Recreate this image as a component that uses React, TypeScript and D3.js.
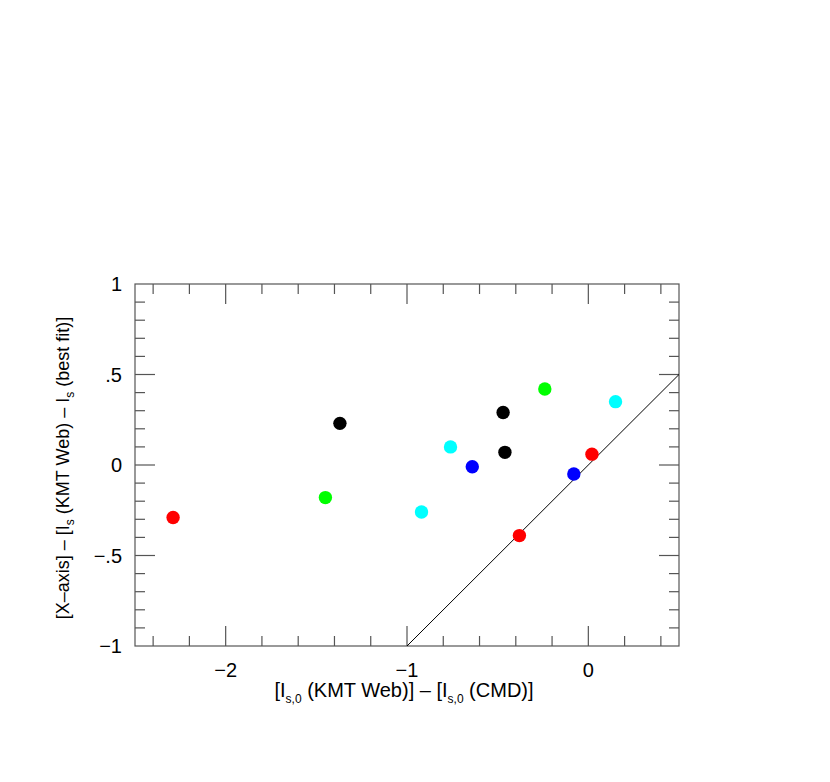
import React from 'react';
import * as d3 from 'd3';

const WIDTH = 830;
const HEIGHT = 782;
const MARGIN = { top: 284, right: 151, bottom: 136, left: 135 };
const GRAPH_WIDTH = WIDTH - MARGIN.left - MARGIN.right;
const GRAPH_HEIGHT = HEIGHT - MARGIN.top - MARGIN.bottom;

// point values
const xValues = [-2.29, -1.45, -1.37, -0.92, -0.76, -0.64, -0.47, -0.46, -0.24, 0.15, 0.02, -0.08, -0.38];
const yValues = [-0.29, -0.18, 0.23, -0.26, 0.10, -0.01, 0.29, 0.07, 0.42, 0.35, 0.06, -0.05, -0.39];
const pointColors = ['#ff0000', '#00ff00', '#000000', '#00ffff', '#00ffff', '#0000ff', '#000000', '#000000', '#00ff00', '#00ffff', '#ff0000', '#0000ff', '#ff0000'];

const xTickValues = [-2, -1, 0];
const xTickLabels = ['\u22122', '\u22121', '0'];
const yTickValues = [-1, -0.5, 0, 0.5, 1];
const yTickLabels = ['\u22121', '\u2212.5', '0', '.5', '1'];
const refLine = [-1, 0.5];

const FONT = '"Liberation Sans", Arial, Helvetica, sans-serif';
const AXIS_COLOR = '#555';

export default function App() {
    const xScale = d3.scaleLinear().domain([-2.5, 0.5]).range([0, GRAPH_WIDTH]);
    const yScale = d3.scaleLinear().domain([-1, 1]).range([GRAPH_HEIGHT, 0]);

    const xMinor = d3.range(-2.4, 0.5, 0.2).map(v => +v.toFixed(2));
    const yMinor = d3.range(-0.9, 1, 0.1).map(v => +v.toFixed(2));
    const isMajorX = (v: number) => Math.abs(v - Math.round(v)) < 1e-6;
    const isMajorY = (v: number) => Math.abs(v * 2 - Math.round(v * 2)) < 1e-6;

    const line = d3.line<number>().x(d => xScale(d)).y(d => yScale(d));

    return (
        <svg width={WIDTH} height={HEIGHT} style={{ position: 'absolute', left: 0, top: 0 }}>
            <g transform={`translate(${MARGIN.left}, ${MARGIN.top})`} fontFamily={FONT}>
                <rect x={0} y={0} width={GRAPH_WIDTH} height={GRAPH_HEIGHT} fill="none" stroke={AXIS_COLOR} strokeWidth={1.2} />
                {xMinor.map(v => {
                    const len = isMajorX(v) ? 20 : 10;
                    const x = xScale(v);
                    return (
                        <g key={'xt' + v}>
                            <line x1={x} x2={x} y1={GRAPH_HEIGHT} y2={GRAPH_HEIGHT - len} stroke={AXIS_COLOR} strokeWidth={1.2} />
                            <line x1={x} x2={x} y1={0} y2={len} stroke={AXIS_COLOR} strokeWidth={1.2} />
                        </g>
                    );
                })}
                {yMinor.map(v => {
                    const len = isMajorY(v) ? 20 : 10;
                    const y = yScale(v);
                    return (
                        <g key={'yt' + v}>
                            <line x1={0} x2={len} y1={y} y2={y} stroke={AXIS_COLOR} strokeWidth={1.2} />
                            <line x1={GRAPH_WIDTH} x2={GRAPH_WIDTH - len} y1={y} y2={y} stroke={AXIS_COLOR} strokeWidth={1.2} />
                        </g>
                    );
                })}
                {xTickValues.map((v, i) => (
                    <text key={'xl' + v} x={xScale(v)} y={GRAPH_HEIGHT + 31} textAnchor="middle" fontSize={20}>{xTickLabels[i]}</text>
                ))}
                {yTickValues.map((v, i) => (
                    <text key={'yl' + v} x={-13} y={yScale(v) + 7} textAnchor="end" fontSize={20}>{yTickLabels[i]}</text>
                ))}
                <path d={line(refLine) || ''} fill="none" stroke="#000" strokeWidth={1} />
                {xValues.map((v, i) => (
                    <circle key={'p' + i} cx={xScale(v)} cy={yScale(yValues[i])} r={6.7} fill={pointColors[i]} />
                ))}
                <text x={GRAPH_WIDTH / 2 - 3} y={GRAPH_HEIGHT + 51} textAnchor="middle" fontSize={20}>
                    [I<tspan fontSize={12} dy={6}>s,0</tspan><tspan dy={-6}> (KMT Web)] – [I</tspan><tspan fontSize={12} dy={6}>s,0</tspan><tspan dy={-6}> (CMD)]</tspan>
                </text>
                <text transform={`translate(-66, ${GRAPH_HEIGHT / 2 + 3}) rotate(-90)`} textAnchor="middle" fontSize={18}>
                    [X–axis] – [I<tspan fontSize={12} dy={5}>s</tspan><tspan dy={-5}> (KMT Web) – I</tspan><tspan fontSize={12} dy={5}>s</tspan><tspan dy={-5}> (best fit)]</tspan>
                </text>
            </g>
        </svg>
    );
}
